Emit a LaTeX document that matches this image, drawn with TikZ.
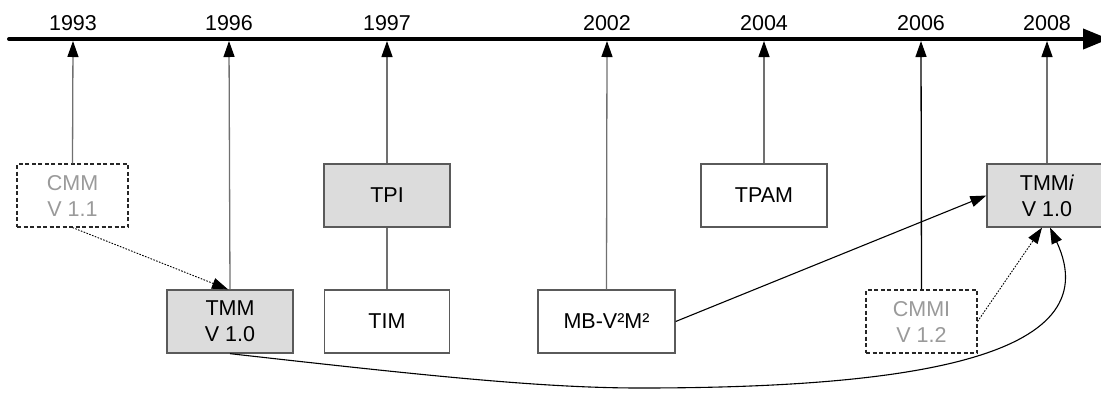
\documentclass[tikz,border=0pt]{standalone}
\usepackage{fontspec}
\setmainfont{Liberation Sans}
\usetikzlibrary{arrows.meta}
\definecolor{boxfill}{HTML}{DCDCDC}
\definecolor{boxline}{HTML}{5A5A5A}
\definecolor{linkgray}{HTML}{707070}
\definecolor{fadedtext}{HTML}{9A9A9A}
\begin{document}
\begin{tikzpicture}[x=1pt,y=-1pt,
  labelfont/.style={font=\fontsize{21.5}{26}\selectfont},
  era/.style={labelfont, minimum height=63pt, inner sep=0pt, align=center,
              draw=boxline, line width=1.3pt},
  milestone/.style={era, fill=boxfill},
  plainbox/.style={era, fill=white},
  predecessor/.style={era, fill=white, draw=black!85, dash pattern=on 4pt off 2.5pt,
              line width=1.1pt, text=fadedtext},
  yearlabel/.style={labelfont, anchor=base},
  tip/.style={-{Triangle[length=16pt,width=11pt,color=black]}},
  tick/.style={tip, draw=linkgray, line width=1.3pt},
  link/.style={draw=linkgray, line width=1.3pt},
  influence/.style={tip, draw=black, line width=0.9pt, dash pattern=on 1.6pt off 1.4pt},
  evolution/.style={tip, draw=black, line width=1.1pt}
]
\useasboundingbox (0,0) rectangle (1101,392);

% time axis
\coordinate (axstart) at (9,39);
\coordinate (axend) at (1109,39);
\draw[line width=4pt, line cap=round, -{Triangle[length=26pt,width=20pt]}] (axstart) -- (axend);

% years and their tick points on the axis
\foreach \yr/\xx in {1993/73, 1996/229, 1997/387, 2002/607, 2004/764, 2006/921, 2008/1047}{
  \node[yearlabel] (lbl\yr) at (\xx,30) {\yr};
  \coordinate (t\yr) at (\xx,41);
}

% models
\node[predecessor, minimum width=111pt] (cmm)  at (72.5,195.5) {CMM\\V 1.1};
\node[milestone,   minimum width=126pt] (tmm)  at (230,321.5)  {TMM\\V 1.0};
\node[milestone,   minimum width=126pt] (tpi)  at (387,195.5)  {TPI};
\node[plainbox,    minimum width=125pt] (tim)  at (387,321.5)  {TIM};
\node[plainbox,    minimum width=137pt] (mb)   at (606.5,321.5) {MB-V²M²};
\node[plainbox,    minimum width=126pt] (tpam) at (764,195.5)  {TPAM};
\node[predecessor, minimum width=111pt] (cmmi) at (921.5,321.5) {CMMI\\V 1.2};
\node[milestone,   minimum width=120pt] (tmmi) at (1047,195.5) {TMM\textit{i}\\V 1.0};

% release dates
\draw[tick] (cmm.north) -- (t1993);
\draw[tick] (tmm.north) -- (t1996);
\draw[tick] (tpi.north) -- (t1997);
\draw[link] (tim.north) -- (tpi.south);
\draw[tick] (mb.north) -- (t2002);
\draw[tick] (tpam.north) -- (t2004);
\draw[tick, draw=black] (cmmi.north) -- (t2006);
\draw[tick] (tmmi.north) -- (t2008);

% lineage
\draw[influence] (cmm.south) -- ([xshift=-2pt]tmm.north);
\draw[influence] (cmmi.east) -- ([xshift=-5pt]tmmi.south);
\draw[evolution] (mb.east) -- (tmmi.west);
\coordinate (low) at (640,388);
\draw[evolution] (tmm.south) .. controls (420,375) and (540,388) .. (low)
                 .. controls (900,388) and (1112,360) .. ([xshift=3pt]tmmi.south);
\end{tikzpicture}
\end{document}
